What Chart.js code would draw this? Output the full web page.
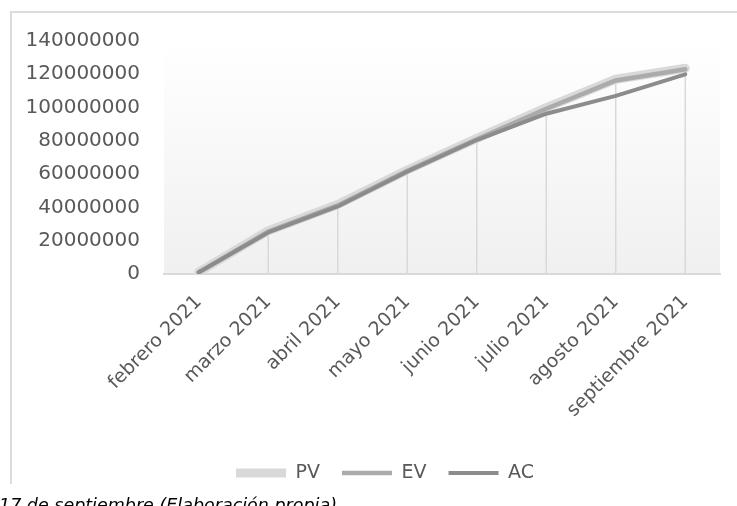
<!DOCTYPE html>
<html lang="es">
<head>
<meta charset="utf-8">
<title>PV / EV / AC</title>
<script src="https://cdn.jsdelivr.net/npm/chart.js@4.4.1/dist/chart.umd.min.js"></script>
<style>
  html, body { margin: 0; padding: 0; background: #fff; overflow: hidden; }
  #wrap { position: relative; width: 737px; height: 506px; }
  #frame {
    position: absolute; left: 10px; top: 11px; width: 800px; height: 473px;
    border-left: 2px solid #dcdcdc; border-top: 2px solid #dcdcdc;
    box-sizing: border-box;
  }
  #evm { position: absolute; left: 0; top: 0; }
  #caption {
    position: absolute; left: -1px; top: 497px; white-space: nowrap;
    font: italic 17.5px/17px "DejaVu Sans", sans-serif; color: #000;
  }
</style>
</head>
<body>
<div id="wrap">
  <div id="frame"></div>
  <canvas id="evm" width="737" height="506"></canvas>
  <div id="caption">17 de septiembre (Elaboración propia)</div>
</div>
<script>
const MONTHS = ["febrero 2021", "marzo 2021", "abril 2021", "mayo 2021",
                "junio 2021", "julio 2021", "agosto 2021", "septiembre 2021"];
const PV = [1200000, 26000000, 41800000, 62500000, 81500000, 100000000, 117000000, 123600000];
const EV = [1000000, 25500000, 41200000, 62000000, 81000000, 99300000, 116300000, 123000000];
const AC = [1000000, 25000000, 40600000, 61500000, 80500000, 96300000, 107000000, 120000000];
const Y_MAX = 140000000;
const Y_STEP = 20000000;

const COLORS = {
  pv: "#d9d9d9",
  ev: "#ababab",
  ac: "#8c8c8c",
  text: "#595959",
  axis: "#d9d9d9"
};
const FONT = "'DejaVu Sans', sans-serif";

// ---- plot area gradient ----
const plotBackground = {
  id: "plotBackground",
  beforeDraw(chart) {
    const { ctx, chartArea: a } = chart;
    const g = ctx.createLinearGradient(0, a.top, 0, a.bottom);
    g.addColorStop(0, "#ffffff");
    g.addColorStop(1, "#f0f0f0");
    ctx.save();
    ctx.fillStyle = g;
    ctx.fillRect(a.left, a.top, a.right - a.left, a.bottom - a.top);
    ctx.restore();
  }
};

// ---- drop lines (axis up to highest series) ----
const dropLines = {
  id: "dropLines",
  beforeDatasetsDraw(chart) {
    const { ctx, scales: { x, y } } = chart;
    ctx.save();
    ctx.strokeStyle = COLORS.axis;
    ctx.lineWidth = 1.5;
    MONTHS.forEach((m, i) => {
      const px = x.getPixelForValue(i);
      const top = Math.max(PV[i], EV[i], AC[i]);
      ctx.beginPath();
      ctx.moveTo(px, y.getPixelForValue(0));
      ctx.lineTo(px, y.getPixelForValue(top));
      ctx.stroke();
    });
    ctx.restore();
  }
};

// legend sits a bit right of the canvas centre, like the original frame
const legendShift = {
  id: "legendShift",
  afterLayout(chart) {
    chart.legend.left += 20;
    chart.legend.right += 20;
  }
};

function series(label, data, color, width, order){
  return {
    label, data, order,
    borderColor: color,
    backgroundColor: color,
    borderWidth: width,
    borderCapStyle: "round",
    borderJoinStyle: "round",
    pointRadius: 0,
    tension: 0,
    fill: false
  };
}

new Chart(document.getElementById("evm"), {
  type: "line",
  data: {
    labels: MONTHS,
    datasets: [
      series("PV", PV, COLORS.pv, 9, 3),
      series("EV", EV, COLORS.ev, 4.5, 2),
      series("AC", AC, COLORS.ac, 4, 1)
    ]
  },
  options: {
    responsive: false,
    animation: false,
    layout: { padding: { left: 10, top: 41, right: 17, bottom: 13.5 } },
    plugins: {
      tooltip: { enabled: false },
      legend: {
        position: "bottom",
        align: "center",
        labels: {
          usePointStyle: true,
          pointStyle: "line",
          pointStyleWidth: 50,
          padding: 22,
          color: COLORS.text,
          font: { family: FONT, size: 19 },
          sort: (a, b) => a.datasetIndex - b.datasetIndex
        }
      }
    },
    scales: {
      x: {
        offset: true,
        grid: { display: false, drawTicks: false },
        border: { display: true, color: COLORS.axis, width: 2 },
        ticks: {
          autoSkip: false,
          minRotation: 45,
          maxRotation: 45,
          padding: 17,
          color: COLORS.text,
          font: { family: FONT, size: 19 }
        },
        afterFit: (s) => { s.height = 167.5; }
      },
      y: {
        min: 0,
        max: Y_MAX,
        grid: { display: false, drawTicks: false },
        border: { display: false },
        ticks: {
          stepSize: Y_STEP,
          padding: 24,
          color: COLORS.text,
          font: { family: FONT, size: 20 },
          callback: (v) => String(v)
        },
        afterFit: (s) => { s.width = 154; }
      }
    }
  },
  plugins: [plotBackground, dropLines, legendShift]
});
</script>
</body>
</html>
